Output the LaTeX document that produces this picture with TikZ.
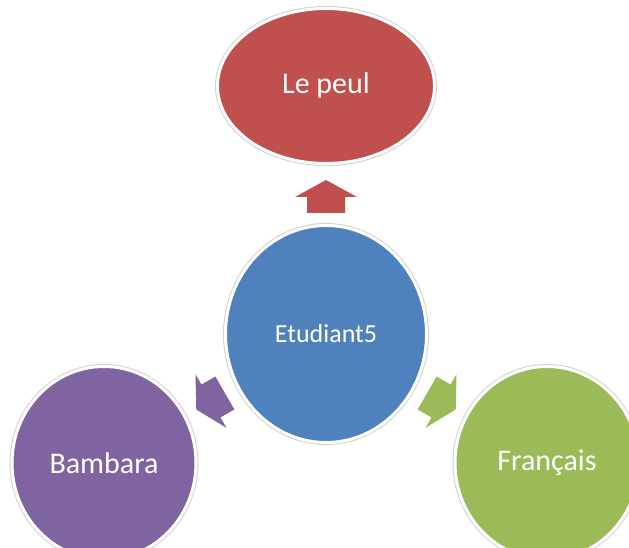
\documentclass[tikz,border=0pt]{standalone}
\usepackage{fontspec}
\setmainfont{Carlito}
\usetikzlibrary{shapes.geometric}
\definecolor{cred}{RGB}{192,80,77}
\definecolor{cblue}{RGB}{79,129,189}
\definecolor{cpurple}{RGB}{128,100,162}
\definecolor{cgreen}{RGB}{155,187,89}
\tikzset{
  bubble/.style={ellipse, inner sep=0pt, draw=white, line width=3pt,
    preaction={draw=gray!35, line width=5pt},
    text=white, font=\fontsize{30}{36}\selectfont},
  blockarrow/.pic={
    \fill[pic actions] (0,17) -- (31,0) -- (19,0) -- (19,-16) -- (-19,-16) -- (-19,0) -- (-31,0) -- cycle;
  }
}
\begin{document}
\begin{tikzpicture}[x=1pt,y=1pt]
\useasboundingbox (0,0) rectangle (629,547);
\clip (0,0) rectangle (629,547);
\fill[white] (0,0) rectangle (629,547);
\node[bubble, fill=cred, minimum width=217pt, minimum height=155pt] (peul) at (326,461) {Le peul};
\node[bubble, fill=cblue, minimum width=201pt, minimum height=217pt, font=\fontsize{26}{31}\selectfont] (etu) at (326,213) {Etudiant5};
\node[bubble, fill=cpurple, minimum width=184pt, minimum height=193pt] (bam) at (104,84) {Bambara};
\node[bubble, fill=cgreen, minimum width=184pt, minimum height=193pt] (fra) at (547,84) {Français};
\pic[fill=cred] (a1) at (326,350) {blockarrow};
\pic[fill=cpurple, rotate=120] (a2) at (211,146) {blockarrow};
\pic[fill=cgreen, rotate=-120] (a3) at (441,146) {blockarrow};
\end{tikzpicture}
\end{document}
